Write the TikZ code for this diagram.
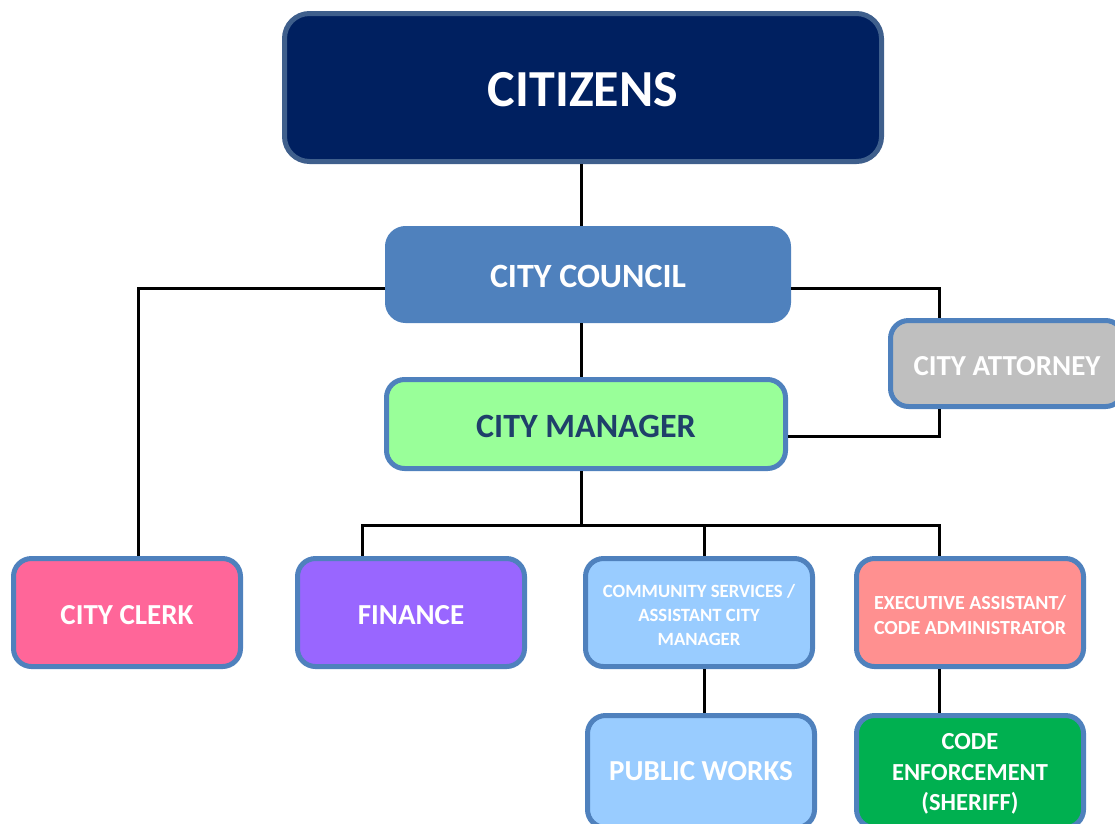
\documentclass[tikz,border=0pt]{standalone}
\usepackage{fontspec}
\setmainfont{Carlito}
\definecolor{citfill}{HTML}{002060}
\definecolor{citbord}{HTML}{3F5F8C}
\definecolor{bordc}{HTML}{4F81BD}
\definecolor{councilfill}{HTML}{4F81BD}
\definecolor{attfill}{HTML}{BFBFBF}
\definecolor{mgrfill}{HTML}{99FF99}
\definecolor{mgrtext}{HTML}{1F3F6A}
\definecolor{clerkfill}{HTML}{FF6699}
\definecolor{finfill}{HTML}{9966FF}
\definecolor{commfill}{HTML}{99CCFF}
\definecolor{execfill}{HTML}{FF9090}
\definecolor{cefill}{HTML}{00B050}
\begin{document}
\begin{tikzpicture}[x=1pt,y=-1pt,
  box/.style={draw=bordc, line width=5pt, rounded corners=18pt, inner sep=0pt,
    align=center, text=white, minimum width=227pt, minimum height=108pt},
  big/.style={font=\fontsize{29}{34}\selectfont\bfseries, text height=24.3pt},
  conn/.style={line width=3pt, black}]
\useasboundingbox (0,0) rectangle (1115,823);
\node[box, fill=citfill, draw=citbord, rounded corners=25pt, minimum width=597pt, minimum height=148pt,
  font=\fontsize{52}{60}\selectfont\bfseries, text height=38.9pt] (cit) at (583,87.5) {CITIZENS};
\node[box, fill=councilfill, draw=councilfill, minimum width=401pt, minimum height=92pt,
  font=\fontsize{34}{40}\selectfont\bfseries, text height=26.5pt] (council) at (588,274.5) {CITY COUNCIL};
\node[box, fill=attfill, minimum width=233pt, minimum height=86pt, big] (att) at (1007,363.5) {CITY ATTORNEY};
\node[box, fill=mgrfill, text=mgrtext, minimum width=399pt, minimum height=89pt,
  font=\fontsize{34}{40}\selectfont\bfseries, text height=27.5pt] (mgr) at (586,424) {CITY MANAGER};
\node[box, fill=clerkfill, big] (clerk) at (127,612.5) {CITY CLERK};
\node[box, fill=finfill, big] (fin) at (411,612.5) {FINANCE};
\node[box, fill=commfill, font=\fontsize{18.7}{24.3}\selectfont\bfseries] (comm) at (699,612.5)
  {\rule{0pt}{23.4pt}COMMUNITY SERVICES /\\ASSISTANT CITY\\MANAGER\rule[-5.6pt]{0pt}{5.6pt}};
\node[box, fill=execfill, font=\fontsize{20}{25}\selectfont\bfseries] (exec) at (970,612.5)
  {\rule{0pt}{24.6pt}EXECUTIVE ASSISTANT/\\CODE ADMINISTRATOR\rule[-6pt]{0pt}{6pt}};
\node[box, fill=commfill, minimum height=112pt, big, text height=18.3pt] (pw) at (701,771.5) {PUBLIC WORKS};
\node[box, fill=cefill, minimum height=112pt, font=\fontsize{24.5}{30.5}\selectfont\bfseries] (ce) at (970,771.5)
  {\rule{0pt}{24.4pt}CODE\\ENFORCEMENT\\(SHERIFF)\rule[-7.4pt]{0pt}{7.4pt}};
\coordinate (spine) at (581,0);
\coordinate (lv) at (138,288);
\coordinate (rv) at (939,288);
\coordinate (mv) at (0,436);
\coordinate (bus) at (0,525);
\coordinate (fx) at (362,0);
\coordinate (cx) at (704,0);
\draw[conn] (cit.south -| spine) -- (council.north -| spine);
\draw[conn] (council.south -| spine) -- (mgr.north -| spine);
\draw[conn] (council.west |- lv) -| (clerk.north -| lv);
\draw[conn] (council.east |- rv) -| (att.north -| rv);
\draw[conn] (mgr.east |- mv) -| (att.south -| rv);
\draw[conn] (mgr.south -| spine) -- (spine |- bus);
\draw[conn] (fin.north -| fx) -- (fx |- bus) -- (rv |- bus) -- (exec.north -| rv);
\draw[conn] (comm.north -| cx) -- (cx |- bus);
\draw[conn] (comm.south -| cx) -- (pw.north -| cx);
\draw[conn] (exec.south -| rv) -- (ce.north -| rv);
\end{tikzpicture}
\end{document}
